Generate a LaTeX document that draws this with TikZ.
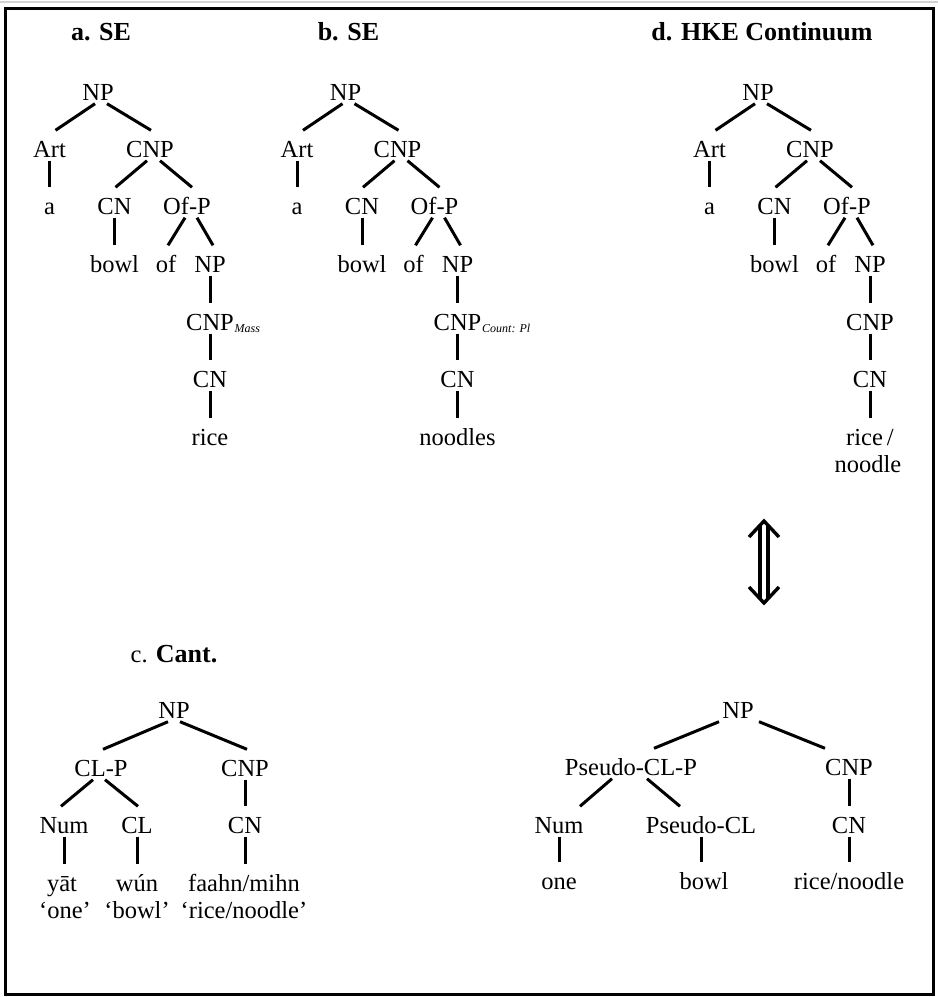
\documentclass[tikz,border=0pt]{standalone}
\usepackage{fontspec}
\setmainfont{Liberation Serif}
\usetikzlibrary{calc}
\newcommand\fs{\fontsize{24.5}{28}\selectfont}
\newcommand\ttlfs{\fontsize{26}{30}\selectfont}
\newcommand\subfs{\fontsize{12}{14}\selectfont\itshape}
\newcommand\tedge[4]{\draw[edge] ([xshift=#3pt]#1.south) -- ([xshift=#4pt]#2.north);}
\newcommand\vedge[2]{\draw[edge] (#1.south) -- (#1.south |- #2.north);}
\tikzset{
  tn/.style={anchor=base, inner sep=0pt, text height=26.5pt, text depth=3.5pt, font=\fs},
  gl/.style={anchor=base, inner sep=0pt, font=\fs},
  ttl/.style={anchor=base, inner sep=0pt, font=\ttlfs\bfseries},
  sub/.style={anchor=base west, inner sep=0pt, font=\subfs},
  edge/.style={line width=3pt},
  arrowline/.style={line width=3.4pt, line join=miter},
  frame/.style={line width=3pt}
}
% standard English tree: #1 prefix, #2 subscript, #3 leaf, #4 title
\newcommand\setree[4]{%
  \node[ttl] (#1title) at (101,40) {#4};
  \node[tn] (#1np) at (98,100) {NP};
  \node[tn] (#1art) at (49.5,157) {Art};
  \node[tn] (#1cnp) at (150,157) {CNP};
  \node[tn] (#1a) at (49.5,214) {a};
  \node[tn] (#1cn) at (114.5,214) {CN};
  \node[tn] (#1ofp) at (187,214) {Of-P};
  \node[tn] (#1bowl) at (114.5,272) {bowl};
  \node[tn] (#1of) at (166,272) {of};
  \node[tn] (#1npb) at (210,272) {NP};
  \node[tn] (#1cnpb) at (210,330) {CNP};
  \node[tn] (#1cnb) at (210,387) {CN};
  \node[tn] (#1leaf) at (210,445) {#3};
  \node[sub] (#1sub) at ([xshift=0.5pt,yshift=-2pt]#1cnpb.base east) {#2};
  \tedge{#1np}{#1art}{-3}{6}
  \tedge{#1np}{#1cnp}{9}{1}
  \tedge{#1cnp}{#1cn}{-3}{1}
  \tedge{#1cnp}{#1ofp}{10}{5}
  \tedge{#1ofp}{#1of}{-2}{2}
  \tedge{#1ofp}{#1npb}{10}{3}
  \vedge{#1art}{#1a}
  \vedge{#1cn}{#1bowl}
  \vedge{#1npb}{#1cnpb}
  \vedge{#1cnpb}{#1cnb}
  \vedge{#1cnb}{#1leaf}
}
\begin{document}
\begin{tikzpicture}[x=1pt, y=-1pt]
\useasboundingbox (0,0) rectangle (938,997);
\fill[white] (0,0) rectangle (938,997);
\draw[gray!35, line width=2pt] (0,1.5) -- (938,1.5);
\draw[frame] (5.5,8.5) rectangle (933,994);

% tree a
\setree{A}{Mass}{rice}{a. SE}
% tree b
\begin{scope}[xshift=247.5pt]
\setree{B}{Count: Pl}{noodles}{b. SE}
\end{scope}
% tree d
\begin{scope}[xshift=660pt]
\setree{D}{}{rice\,/}{}
\node[gl] (Dleafb) at (208,472) {noodle};
\end{scope}
\node[ttl] (Dttl) at (762,40) {d. HKE Continuum};

% double arrow
\coordinate (arrT) at (764,521);
\coordinate (arrB) at (764,603);
\draw[arrowline] ($(arrT)+(-15,16)$) -- (arrT) -- ($(arrT)+(15,16)$);
\draw[arrowline] ($(arrB)+(-15,-16)$) -- (arrB) -- ($(arrB)+(15,-16)$);
\draw[arrowline] ($(arrT)+(-4,5)$) -- ($(arrB)+(-4,-5)$);
\draw[arrowline] ($(arrT)+(4,5)$) -- ($(arrB)+(4,-5)$);

% tree c
\node[gl] (Cttl) at (174,662) {c. {\ttlfs\bfseries Cant.}};
\node[tn] (Cnp) at (174,718) {NP};
\node[tn] (Cclp) at (101,776) {CL-P};
\node[tn] (Ccnp) at (245,776) {CNP};
\node[tn] (Cnum) at (64,833) {Num};
\node[tn] (Ccl) at (137,833) {CL};
\node[tn] (Ccn) at (245,833) {CN};
\node[tn] (Cyat) at (62,891) {yāt};
\node[tn] (Cwun) at (137,891) {wún};
\node[tn] (Cfaahn) at (244,891) {faahn/mihn};
\node[gl] (Cone) at (65,918) {‘one’};
\node[gl] (Cbowl) at (137,918) {‘bowl’};
\node[gl] (Crice) at (244,918) {‘rice/noodle’};
\tedge{Cnp}{Cclp}{-6}{2}
\tedge{Cnp}{Ccnp}{6}{2}
\tedge{Cclp}{Cnum}{-8}{-3}
\tedge{Cclp}{Ccl}{4}{1}
\vedge{Ccnp}{Ccn}
\vedge{Cnum}{Cyat}
\vedge{Ccl}{Cwun}
\vedge{Ccn}{Cfaahn}

% tree e
\node[tn] (Enp) at (738,718) {NP};
\node[tn] (Epclp) at (631,775) {Pseudo-CL-P};
\node[tn] (Ecnp) at (849,775) {CNP};
\node[tn] (Enum) at (559,833) {Num};
\node[tn] (Epcl) at (701,833) {Pseudo-CL};
\node[tn] (Ecn) at (849,833) {CN};
\node[tn] (Eone) at (559,889) {one};
\node[tn] (Ebowl) at (704,889) {bowl};
\node[tn] (Erice) at (849,889) {rice/noodle};
\tedge{Enp}{Epclp}{-19}{23}
\tedge{Enp}{Ecnp}{21}{-24}
\tedge{Epclp}{Enum}{-19}{21}
\tedge{Epclp}{Epcl}{16}{-21}
\vedge{Ecnp}{Ecn}
\vedge{Enum}{Eone}
\vedge{Epcl}{Ebowl}
\vedge{Ecn}{Erice}
\end{tikzpicture}
\end{document}
